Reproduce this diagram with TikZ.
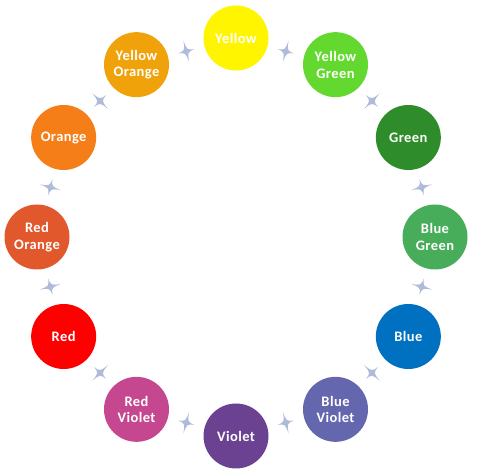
\documentclass[tikz,border=0pt]{standalone}
\usepackage{fontspec}
\setmainfont{Carlito}
\newfontfamily\ballfont[LetterSpace=3]{Carlito}
\usetikzlibrary{calc}
\definecolor{cYellow}{HTML}{FFF500}
\definecolor{cYellowGreen}{HTML}{63D82E}
\definecolor{cGreen}{HTML}{2F8C2B}
\definecolor{cBlueGreen}{HTML}{47AD5B}
\definecolor{cBlue}{HTML}{0070C0}
\definecolor{cBlueViolet}{HTML}{6466AE}
\definecolor{cViolet}{HTML}{6B4292}
\definecolor{cRedViolet}{HTML}{C5478F}
\definecolor{cRed}{HTML}{FE0000}
\definecolor{cRedOrange}{HTML}{E2582D}
\definecolor{cOrange}{HTML}{F67E18}
\definecolor{cYellowOrange}{HTML}{F0A20B}
\definecolor{cStar}{HTML}{AEBCDA}
\tikzset{
  colorball/.style={circle, minimum size=65pt, inner sep=0pt, text=white,
    font=\ballfont\fontsize{14.5}{16.7}\selectfont\bfseries, align=center},
  fourstar/.pic={
    \fill[cStar] (0,11) .. controls (1.1,1.1) .. (8.5,0)
      .. controls (1.1,-1.1) .. (0,-11)
      .. controls (-1.1,-1.1) .. (-8.5,0)
      .. controls (-1.1,1.1) .. cycle;
  }
}
\begin{document}
\begin{tikzpicture}[x=1pt,y=1pt]
\useasboundingbox (0,0) rectangle (485,474);
\coordinate (c) at (236,237);
\foreach \name/\ang/\col/\txt in {
  n1/90/cYellow/Yellow,
  n2/60/cYellowGreen/{Yellow\\Green},
  n3/30/cGreen/Green,
  n4/0/cBlueGreen/{Blue\\Green},
  n5/-30/cBlue/Blue,
  n6/-60/cBlueViolet/{Blue\\Violet},
  n7/-90/cViolet/Violet,
  n8/-120/cRedViolet/{Red\\Violet},
  n9/-150/cRed/Red,
  n10/180/cRedOrange/{Red\\Orange},
  n11/150/cOrange/Orange,
  n12/120/cYellowOrange/{Yellow\\Orange}}{
  \node[colorball, fill=\col] (\name) at ($(c)+(\ang:199)$) {\txt};
}
\foreach \a/\b/\ang in {n1/n2/75, n2/n3/45, n3/n4/15, n4/n5/-15, n5/n6/-45,
  n6/n7/-75, n7/n8/-105, n8/n9/-135, n9/n10/-165, n10/n11/165,
  n11/n12/135, n12/n1/105}{
  \path ($(\a)!0.5!(\b)$) pic[rotate=\ang-90] {fourstar};
}
\end{tikzpicture}
\end{document}
